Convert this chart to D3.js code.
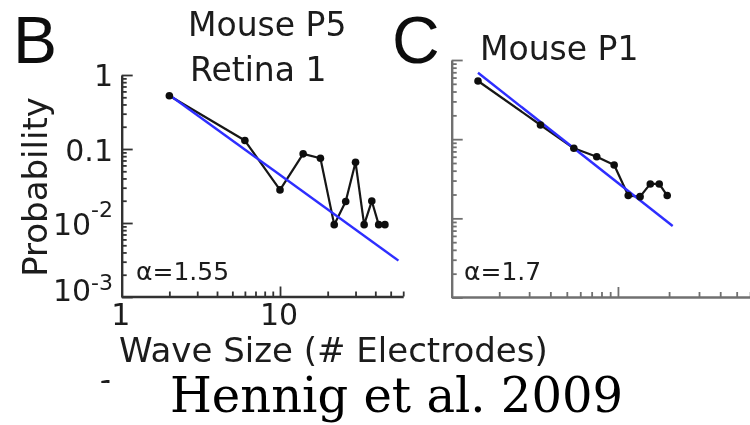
<!DOCTYPE html>
<html><head><meta charset="utf-8">
<script src="https://cdn.jsdelivr.net/npm/d3@7"></script>
<style>body{margin:0;background:#fff} svg{display:block}</style>
</head><body>
<svg id="c" width="750" height="425"></svg>
<script>
// ---- data ----
const sizesB = [2, 6, 10, 14, 18, 22, 26, 30, 34, 38, 42, 46];
const probB  = [0.525, 0.13, 0.028, 0.086, 0.075, 0.0095, 0.0195, 0.066, 0.0095, 0.0198, 0.0095, 0.0095];
const fitBx  = [2, 56];
const fitBy  = [0.5375, 0.0031];
const sizesC = [1.5, 3.5, 5.5, 7.5, 9.5, 11.5, 13.5, 15.5, 17.5, 19.5];
const probC  = [0.543, 0.151, 0.0767, 0.060, 0.0472, 0.0194, 0.0188, 0.0272, 0.0272, 0.0194];
const fitCx  = [1.5, 21];
const fitCy  = [0.69, 0.008];
const yMajor = [1, 0.1, 0.01, 0.001];
const yMinor = [0.2,0.3,0.4,0.5,0.6,0.7,0.8,0.9,0.02,0.03,0.04,0.05,0.06,0.07,0.08,0.09,0.002,0.003,0.004,0.005,0.006,0.007,0.008,0.009];
const xMajor = [10];
const xMinor = [2,3,4,5,6,7,8,9,20,30,40,50,60];
const yLabelsB = [["1",""],["0.1",""],["10","-2"],["10","-3"]];
const xLabels = [["1",1],["10",10]];
const titleB = ["Mouse P5", "Retina 1"];
const titleC = "Mouse P1";
const alphaB = "α=1.55";
const alphaC = "α=1.7";
const xTitle = "Wave Size (# Electrodes)";
const yTitle = "Probability";
const citation = "Hennig et al. 2009";

const svg = d3.select("#c");
const sans = "DejaVu Sans, Verdana, sans-serif";
svg.append("defs").html('<filter id="soft" x="-5%" y="-5%" width="110%" height="110%"><feGaussianBlur stdDeviation="0.55"/></filter>' +
  '<clipPath id="frag"><rect x="95" y="374" width="20" height="9"/></clipPath>');
const root = svg.append("g").attr("filter", "url(#soft)");

// ---- scales ----
const xB = d3.scaleLog().domain([1, 60]).range([121.7, 403.2]);
const yB = d3.scaleLog().domain([0.001, 1]).range([297, 75]);
const xC = d3.scaleLog().domain([1.05, 68.6]).range([451.7, 760]);
const yC = d3.scaleLog().domain([0.001, 1]).range([297.5, 60]);

function drawAxes(x, y, color, xMinorVals) {
  const gy = root.append("g").attr("transform", `translate(${x.range()[0]},0)`);
  gy.call(d3.axisRight(y).tickValues(yMajor).tickSize(11).tickSizeOuter(0).tickFormat(""));
  const gy2 = root.append("g").attr("transform", `translate(${x.range()[0]},0)`);
  gy2.call(d3.axisRight(y).tickValues(yMinor).tickSize(5).tickSizeOuter(0).tickFormat(""));
  gy2.select(".domain").remove();
  const y0 = y.range()[0] - 0.5;
  const gx = root.append("g").attr("transform", `translate(0,${y0})`);
  gx.call(d3.axisTop(x).tickValues(xMajor).tickSize(10).tickSizeOuter(0).tickFormat(""));
  const gx2 = root.append("g").attr("transform", `translate(0,${y0})`);
  gx2.call(d3.axisTop(x).tickValues(xMinorVals).tickSize(5).tickSizeOuter(0).tickFormat(""));
  gx2.select(".domain").remove();
  [gy, gy2, gx, gx2].forEach(g => {
    g.selectAll(".domain").attr("stroke", color).attr("stroke-width", 2.4);
    g.selectAll(".tick line").attr("stroke", color).attr("stroke-width", 1.8);
  });
}
drawAxes(xB, yB, "#333", xMinor);
drawAxes(xC, yC, "#707070", xMinor);

function drawSeries(x, y, xs, ys, fx, fy) {
  const pts = xs.map((d, i) => [d, ys[i]]);
  const line = d3.line().x(d => x(d[0])).y(d => y(d[1]));
  root.append("path").attr("d", line(pts)).attr("fill", "none")
    .attr("stroke", "#151515").attr("stroke-width", 2.2).attr("stroke-linejoin", "round");
  root.append("path").attr("d", line(fx.map((d, i) => [d, fy[i]]))).attr("fill", "none")
    .attr("stroke", "#2d2dff").attr("stroke-width", 2.4);
  root.selectAll(null).data(pts).enter().append("circle")
    .attr("cx", d => x(d[0])).attr("cy", d => y(d[1])).attr("r", 3.8).attr("fill", "#111");
}
drawSeries(xB, yB, sizesB, probB, fitBx, fitBy);
drawSeries(xC, yC, sizesC, probC, fitCx, fitCy);

// ---- tick labels ----
const tl = root.append("g").attr("font-family", sans).attr("fill", "#1a1a1a");
const ylabOff = [[10.5, 0], [11.5, 0], [11.7, -18], [4, -11]];
yLabelsB.forEach((l, i) => {
  const t = tl.append("text").attr("x", 113).attr("y", yB(yMajor[i]) + ylabOff[i][0])
    .attr("text-anchor", "end").attr("font-size", 30).text(l[0]);
  if (l[1]) t.append("tspan").attr("dy", ylabOff[i][1]).attr("font-size", 22).text(l[1]);
});
xLabels.forEach(l => {
  tl.append("text").attr("x", xB(l[1]) - 1).attr("y", 325).attr("text-anchor", "middle")
    .attr("font-size", 30).text(l[0]);
});

// ---- titles ----
const tt = root.append("g").attr("font-family", sans).attr("fill", "#1a1a1a");
tt.append("text").attr("x", 188).attr("y", 36).attr("font-size", 33).text(titleB[0]);
tt.append("text").attr("x", 190).attr("y", 81).attr("font-size", 33).text(titleB[1]);
tt.append("text").attr("x", 480).attr("y", 60).attr("font-size", 33).text(titleC);
tt.append("text").attr("x", 136).attr("y", 280).attr("font-size", 25).text(alphaB);
tt.append("text").attr("x", 464).attr("y", 280).attr("font-size", 25).text(alphaC);
tt.append("text").attr("x", 119).attr("y", 362).attr("font-size", 34).text(xTitle);
tt.append("text").attr("transform", "translate(47,187) rotate(-90)").attr("text-anchor", "middle")
  .attr("font-size", 34).text(yTitle);
// cropped fragment of a label from the panel row below
tt.append("text").attr("x", 98).attr("y", 402).attr("font-size", 30).attr("clip-path", "url(#frag)").text("1");

root.append("text").attr("x", 13).attr("y", 63).attr("font-family", "Liberation Sans, Arial, sans-serif")
  .attr("font-size", 66).attr("fill", "#111").text("B");
root.append("text").attr("x", 392).attr("y", 63).attr("font-family", "Liberation Sans, Arial, sans-serif")
  .attr("font-size", 66).attr("fill", "#111").text("C");

root.append("text").attr("x", 170).attr("y", 412).attr("font-family", "DejaVu Serif, serif")
  .attr("font-size", 48).attr("fill", "#000").text(citation);
</script>
</body></html>
